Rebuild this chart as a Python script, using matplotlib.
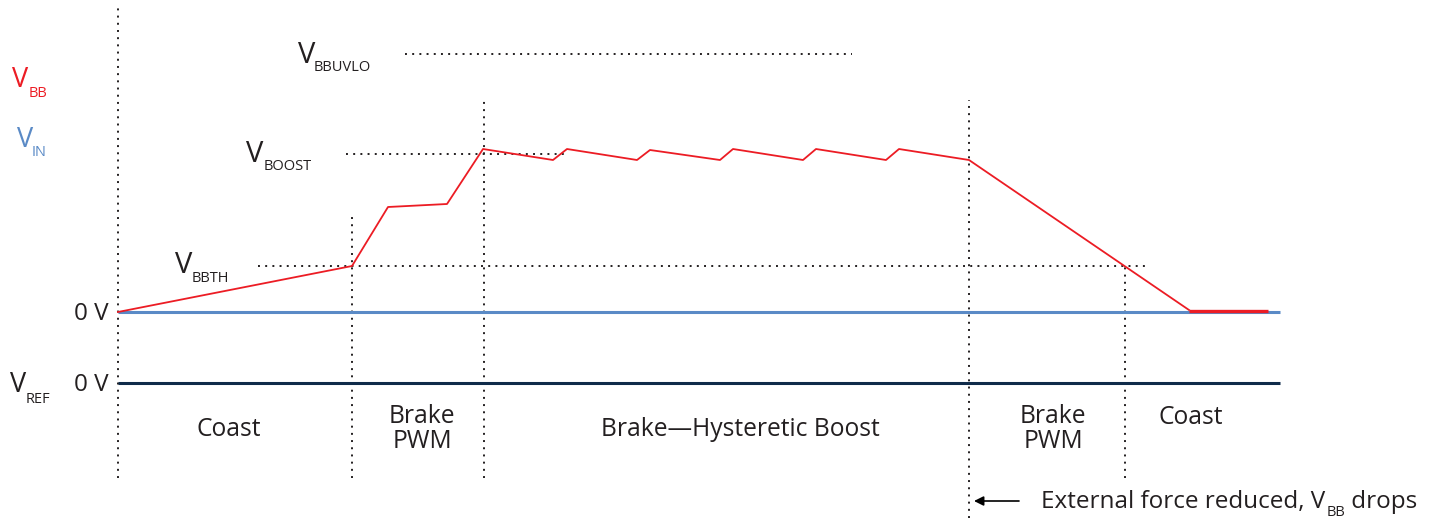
import matplotlib.pyplot as plt
import numpy as np

# canvas units: x in px, y in px above the 0 V (V_IN) line
W, H = 1437, 518
Y0 = 312  # pixel row of the 0 V line

## === data ===
t_vbb = [118, 352, 388, 447, 483, 553, 567, 637, 650, 720, 733, 803, 816, 886, 899, 969, 1189]
v_vbb = [0, 46, 105, 108, 163, 152, 163, 152, 162, 152, 163, 152, 163, 152, 163, 152, 2]
t_vbb_end = [1189, 1268]
v_vbb_end = [1.5, 1.5]

t_span = [118, 1280]
v_in = 0
v_ref = -71

# reference levels: (name, level, x start, x end)
lvl_names = ['BBUVLO', 'BOOST', 'BBTH']
lvl_vals = [258, 158, 46]
lvl_x0 = [405, 346, 258]
lvl_x1 = [852, 567, 1145]

# vertical phase markers
mark_t = [118, 352, 484, 969, 1125]
mark_top = [304, 95, 212, 212, 46]
mark_bot = [-166, -166, -166, -206, -166]

phase_labels = ['Coast', 'Brake\nPWM', 'Brake\u2014Hysteretic Boost', 'Brake\nPWM', 'Coast']
phase_x = [229, 422, 740, 1053, 1191]
phase_y = [-117, -117, -117, -117, -105]

red = '#ec1c24'; blue = '#5a8ac6'; navy = '#0f2b4a'; ink = '#231f20'
fnt = 'Open Sans'
dot = (0, (1, 2.7))

fig = plt.figure(figsize=(W/100, H/100), dpi=100)
ax = fig.add_axes([0, 0, 1, 1])
ax.set_xlim(0, W)
ax.set_ylim(Y0 - H, Y0)
ax.axis('off')

## traces
ax.plot(t_span, [v_in, v_in], color=blue, lw=2.2, solid_capstyle='butt', zorder=2)
ax.plot(t_span, [v_ref, v_ref], color=navy, lw=2.2, solid_capstyle='butt', zorder=2)
ax.plot(t_vbb, v_vbb, color=red, lw=1.3, zorder=3)
ax.plot(t_vbb_end, v_vbb_end, color=red, lw=2.4, solid_capstyle='butt', zorder=3)

## dotted guides
for x, a, b in zip(mark_t, mark_top, mark_bot):
    ax.plot([x, x], [b, a], color=ink, lw=1.4, ls=dot, zorder=1)
for v, a, b in zip(lvl_vals, lvl_x0, lvl_x1):
    ax.plot([a, b], [v, v], color=ink, lw=1.4, ls=dot, zorder=1)

## labels with subscripts (main V, subscript placed at given px)
def vlab(x, py, sub, sx, spy, color=ink, size=19, ssize=10.5):
    ax.text(x, Y0 - py, 'V', color=color, fontsize=size, family=fnt, va='baseline', ha='left')
    ax.text(sx, Y0 - spy, sub, color=color, fontsize=ssize, family=fnt, va='baseline', ha='left')

vlab(12, 87, 'BB', 29, 97, color=red, size=19.5)
vlab(17, 147, 'IN', 32, 156, color=blue, size=19.5)
vlab(298, 63, lvl_names[0], 314, 71, size=21)
vlab(246, 162, lvl_names[1], 264, 170, size=21)
vlab(175, 273, lvl_names[2], 192, 282, size=21)
vlab(10, 392, 'REF', 26, 403, size=19.5)

ax.text(109, Y0 - 320, '0 V', color=ink, fontsize=17.5, family=fnt, va='baseline', ha='right')
ax.text(109, Y0 - 391, '0 V', color=ink, fontsize=17.5, family=fnt, va='baseline', ha='right')

for s, x, y in zip(phase_labels, phase_x, phase_y):
    ax.text(x, y, s, color=ink, fontsize=17.7, family=fnt, ha='center', va='center',
            linespacing=0.95)

## annotation at the bottom
ax.annotate('', xy=(974, Y0 - 501), xytext=(1019, Y0 - 501),
            arrowprops=dict(arrowstyle='-|>', color='black', lw=1.2,
                            mutation_scale=14, shrinkA=0, shrinkB=0))
r = fig.canvas.get_renderer()
t1 = ax.text(1041, Y0 - 508, 'External force reduced, V', color=ink, fontsize=17.5,
             family=fnt, va='baseline', ha='left')
x1 = ax.transData.inverted().transform((t1.get_window_extent(r).x1, 0))[0]
t2 = ax.text(x1 + 1, Y0 - 516, 'BB', color=ink, fontsize=10.5, family=fnt,
             va='baseline', ha='left')
x2 = ax.transData.inverted().transform((t2.get_window_extent(r).x1, 0))[0]
ax.text(x2, Y0 - 508, ' drops', color=ink, fontsize=17.5, family=fnt,
        va='baseline', ha='left')

fig.savefig('out.png', dpi=100)
